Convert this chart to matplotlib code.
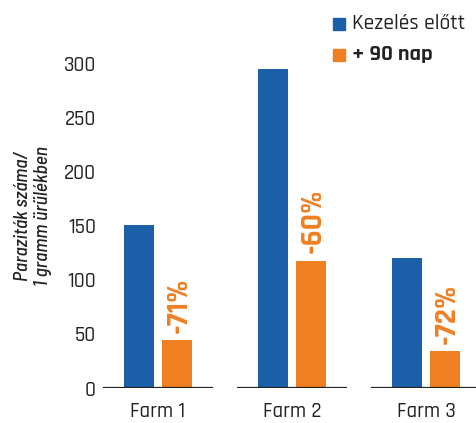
#Parasite counts before / after treatment
import numpy as np
import matplotlib.pyplot as plt

#Data
farms = ['Farm 1', 'Farm 2', 'Farm 3']
before = [151, 295, 120]
after = [44, 118, 34]
change_labels = ['-71%', '-60%', '-72%']
yticks = [0, 50, 100, 150, 200, 250, 300]
legend_labels = ['Kezelés előtt', '+ 90 nap']

blue = '#1b5fa8'
orange = '#f07f22'
txt = '#222222'
font = ['Rajdhani', 'DejaVu Sans']
font_it = ['Barlow Semi Condensed', 'DejaVu Sans']

fig = plt.figure(figsize=(4.76, 4.23), dpi=100)
ax = fig.add_axes([0.21, 0.0827, 0.79, 0.7663])

x = np.arange(len(farms))
w = 0.224
off = 0.145
ax.bar(x - off, before, w, color=blue, zorder=2)
ax.bar(x + off, after, w, color=orange, zorder=2)

#baseline segments under each group
for xi in x:
    ax.plot([xi - 0.41, xi + 0.41], [0, 0], color=txt, lw=1.6, zorder=3, solid_capstyle='butt')

#percent change labels
for xi, v, lab in zip(x, after, change_labels):
    ax.text(xi + off, v + 7, lab, rotation=90, ha='center', va='bottom',
            color=orange, fontsize=22, fontweight='bold', family=font)

ax.set_xlim(-0.433, 2.373)
ax.set_ylim(0, 300)
ax.set_yticks(yticks)
ax.set_yticklabels([str(t) for t in yticks], family=font, fontsize=15, color=txt,
                   fontweight='medium')
ax.set_xticks(x)
ax.set_xticklabels(farms, family=font, fontsize=15, color=txt, fontweight='medium')
ax.tick_params(length=0, axis='y', pad=3)
ax.tick_params(length=0, axis='x', pad=10)
for s in ax.spines.values():
    s.set_visible(False)

fig.text(0.069, 0.49, 'Paraziták száma/\n1 gramm ürülékben', rotation=90, ha='center', va='center',
         style='italic', fontsize=14, color=txt, family=font_it, fontweight='medium',
         linespacing=1.1)

#legend
fig.patches.append(plt.Rectangle((333 / 476, 1 - 30 / 423), 12 / 476, 12 / 423,
                                 transform=fig.transFigure, color=blue))
fig.patches.append(plt.Rectangle((333 / 476, 1 - 61 / 423), 12 / 476, 12 / 423,
                                 transform=fig.transFigure, color=orange))
fig.text(352 / 476, 1 - 23 / 423, legend_labels[0], va='center', ha='left', fontsize=15.5,
         color=txt, family=font, fontweight='medium')
fig.text(352 / 476, 1 - 54 / 423, legend_labels[1], va='center', ha='left', fontsize=16,
         color=txt, family=font, fontweight='bold')

plt.savefig('out.png', dpi=100)
